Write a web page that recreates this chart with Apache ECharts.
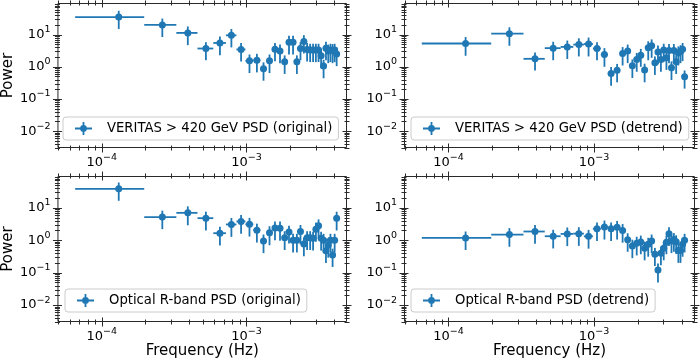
<!doctype html>
<html>
<head>
<meta charset="utf-8">
<title>PSD panels</title>
<script src="https://cdn.jsdelivr.net/npm/echarts@6.0.0/dist/echarts.min.js"></script>
<style>
  html, body { margin: 0; padding: 0; background: #fff; }
  #main { width: 700px; height: 362px; }
</style>
</head>
<body>
<div id="main"></div>
<script>
  // frequency bins (Hz), half bin width used for the x error bars
  var freq = [0.0001312, 0.0002624, 0.0003936, 0.0005248, 0.000656, 0.0007872, 0.0009184, 0.0010496,
              0.0011808, 0.001312, 0.0014432, 0.0015744, 0.0017056, 0.0018368, 0.001968, 0.0020992,
              0.0022304, 0.0023616, 0.0024928, 0.002624, 0.0027552, 0.0028864, 0.0030176, 0.0031488,
              0.00328, 0.0034112, 0.0035424, 0.0036736, 0.0038048, 0.003936, 0.0040672, 0.0041984];
  var binHalf = 0.0000656;

  var veritasOrig = [35, 20, 11.3, 3.7, 5.5, 9.5, 3.45, 1.53, 1.6, 0.87, 1.53, 3.5, 3.1, 1.43, 5.8, 5.8,
                     1.43, 3.7, 6.1, 3.45, 3.3, 3.3, 3.3, 3.3, 2.2, 1.05, 3.8, 3.1, 3.3, 3.2, 3.3, 2.5];
  var veritasOrigErr = [20, 11.6, 6.6, 2.1, 3.2, 5.5, 2.0, 0.89, 0.93, 0.5, 0.89, 2.0, 1.8, 0.83, 3.4, 3.4,
                        0.83, 2.1, 3.5, 2.0, 1.9, 1.9, 1.9, 1.9, 1.3, 0.61, 2.2, 1.8, 1.9, 1.9, 1.9, 1.45];

  var veritasDetr = [5.3, 10.7, 1.77, 3.8, 4.15, 4.9, 5.1, 3.7, 2.4, 0.62, 0.78, 2.6, 3.1, 1.07, 1.7, 2.3,
                     0.79, 3.9, 4.5, 1.33, 2.9, 1.7, 3.3, 1.9, 3.2, 0.93, 3.2, 1.43, 2.7, 3.0, 3.5, 0.49];
  var veritasDetrErr = [3.1, 6.2, 1.0, 2.2, 2.4, 2.8, 3.0, 2.1, 1.4, 0.36, 0.45, 1.5, 1.8, 0.62, 1.0, 1.3,
                        0.46, 2.3, 2.6, 0.77, 1.7, 1.0, 1.9, 1.1, 1.9, 0.54, 1.9, 0.83, 1.6, 1.7, 2.0, 0.28];

  var opticalOrig = [38.5, 5.2, 7.0, 4.8, 1.65, 3.07, 3.8, 3.1, 2.05, 0.95, 1.7, 2.4, 2.36, 1.2, 1.8, 1.0,
                     1.0, 1.85, 0.77, 1.2, 1.2, 1.15, 2.2, 2.8, 1.15, 1.0, 0.47, 0.7, 1.0, 0.35, 1.0, 4.8];
  var opticalOrigErr = [22, 3.0, 4.1, 2.8, 0.96, 1.8, 2.2, 1.8, 1.2, 0.55, 1.0, 1.4, 1.4, 0.7, 1.0, 0.58,
                        0.58, 1.1, 0.45, 0.7, 0.7, 0.67, 1.3, 1.6, 0.67, 0.58, 0.27, 0.41, 0.58, 0.2, 0.58, 2.8];

  var opticalDetr = [1.18, 1.5, 1.86, 1.33, 1.57, 1.6, 1.32, 2.25, 2.55, 2.25, 2.5, 2.0, 1.04, 0.66, 0.81, 0.88,
                     0.57, 0.75, 0.95, 0.37, 0.12, 0.4, 0.57, 0.87, 1.6, 0.95, 1.05, 0.9, 0.48, 0.48, 0.75, 1.0];
  var opticalDetrErr = [0.68, 0.87, 1.08, 0.77, 0.91, 0.93, 0.77, 1.3, 1.5, 1.3, 1.45, 1.16, 0.6, 0.38, 0.47, 0.51,
                        0.33, 0.44, 0.55, 0.21, 0.07, 0.23, 0.33, 0.5, 0.93, 0.55, 0.61, 0.52, 0.28, 0.28, 0.44, 0.58];

  var xMajorTicks = [1e-4, 1e-3];
  var yMajorTicks = [0.01, 0.1, 1, 10];

  var XMIN = 4.95e-5, XMAX = 4.95e-3, YMIN = 0.003, YMAX = 96;
  var BLUE = '#1f77b4';
  var FONT = 'DejaVu Sans';
  var ERR_ICON = 'path://M0,5.6 L17,5.6 L17,7.4 L0,7.4 Z M7.6,0 L9.4,0 L9.4,13 L7.6,13 Z ' +
                 'M5.1,6.5 A3.4,3.4 0 1 1 11.9,6.5 A3.4,3.4 0 1 1 5.1,6.5 Z';

  var panels = [
    {name: 'VERITAS > 420 GeV PSD (original)', y: veritasOrig, err: veritasOrigErr,
     left: 57, top: 3, width: 290, height: 145, legendLeft: 63, legendTop: 117, yName: 'Power', xName: ''},
    {name: 'VERITAS > 420 GeV PSD (detrend)', y: veritasDetr, err: veritasDetrErr,
     left: 404, top: 3, width: 291, height: 145, legendLeft: 411, legendTop: 117, yName: '', xName: ''},
    {name: 'Optical R-band PSD (original)', y: opticalOrig, err: opticalOrigErr,
     left: 57, top: 176, width: 290, height: 146, legendLeft: 65, legendTop: 289, yName: 'Power', xName: 'Frequency (Hz)'},
    {name: 'Optical R-band PSD (detrend)', y: opticalDetr, err: opticalDetrErr,
     left: 404, top: 176, width: 291, height: 146, legendLeft: 411, legendTop: 289, yName: '', xName: 'Frequency (Hz)'}
  ];

  function powLabel(v) {
    var e = Math.round(Math.log(v) / Math.LN10);
    return '{b|10}{s|' + (e < 0 ? '\u2212' + (-e) : e) + '}';
  }
  var labelRich = {
    b: {fontFamily: FONT, fontSize: 13, lineHeight: 20, color: '#000'},
    s: {fontFamily: FONT, fontSize: 9.5, lineHeight: 9, verticalAlign: 'top', color: '#000'}
  };

  // tick marks on all four sides, matplotlib style (in and out)
  function tickData() {
    var d = [], e, m, v;
    for (e = -5; e <= -3; e++) {
      for (m = 1; m < 10; m++) {
        v = m * Math.pow(10, e);
        if (v >= XMIN && v <= XMAX) d.push([v, 1, xMajorTicks.indexOf(v) >= 0 || m === 1 ? 0 : 1]);
      }
    }
    for (e = -3; e <= 1; e++) {
      for (m = 1; m < 10; m++) {
        v = m * Math.pow(10, e);
        if (v >= YMIN && v <= YMAX) d.push([1e-3, v, m === 1 ? 2 : 3]);
      }
    }
    d.push([1e-3, 1, 4]);
    return d;
  }

  function renderTick(params, api) {
    var cs = params.coordSys;
    var kind = api.value(2);
    var st = {stroke: '#2a2a2a', lineWidth: 1};
    if (kind === 4) {
      return {type: 'rect', shape: {x: cs.x + 0.5, y: cs.y + 0.5, width: cs.width - 1, height: cs.height - 1},
              style: {stroke: '#2a2a2a', fill: null, lineWidth: 1}};
    }
    var len = (kind === 0 || kind === 2) ? 4.5 : 2.5;
    var x0 = cs.x, x1 = cs.x + cs.width, y0 = cs.y, y1 = cs.y + cs.height;
    if (kind < 2) {
      var px = Math.round(api.coord([api.value(0), 1])[0]) + 0.5;
      return {type: 'group', children: [
        {type: 'line', shape: {x1: px, y1: y0 - len, x2: px, y2: y0 + len}, style: st},
        {type: 'line', shape: {x1: px, y1: y1 - len, x2: px, y2: y1 + len}, style: st}
      ]};
    }
    var py = Math.round(api.coord([1e-3, api.value(1)])[1]) + 0.5;
    return {type: 'group', children: [
      {type: 'line', shape: {x1: x0 - len, y1: py, x2: x0 + len, y2: py}, style: st},
      {type: 'line', shape: {x1: x1 - len, y1: py, x2: x1 + len, y2: py}, style: st}
    ]};
  }

  function renderErr(params, api) {
    var f = api.value(0), p = api.value(1), xe = api.value(2), pe = api.value(3);
    var cs = params.coordSys;
    var c = api.coord([f, p]);
    var l = api.coord([f - xe, p]);
    var r = api.coord([f + xe, p]);
    var t = api.coord([f, p + pe]);
    var lo = p - pe > 0 ? api.coord([f, p - pe])[1] : cs.y + cs.height;
    var st = {stroke: BLUE, lineWidth: 1.8};
    return {type: 'group', children: [
      {type: 'line', shape: {x1: l[0], y1: c[1], x2: r[0], y2: c[1]}, style: st},
      {type: 'line', shape: {x1: c[0], y1: t[1], x2: c[0], y2: lo}, style: st},
      {type: 'circle', shape: {cx: c[0], cy: c[1], r: 3.5}, style: {fill: BLUE}}
    ]};
  }

  var chart = echarts.init(document.getElementById('main'));
  var option = {
    animation: false,
    backgroundColor: '#fff',
    grid: [],
    xAxis: [],
    yAxis: [],
    legend: [],
    series: []
  };

  panels.forEach(function (p, i) {
    option.grid.push({left: p.left, top: p.top, width: p.width, height: p.height, containLabel: false});
    option.xAxis.push({
      type: 'log', logBase: 10, gridIndex: i, min: XMIN, max: XMAX,
      axisLine: {show: false}, axisTick: {show: false}, splitLine: {show: false},
      axisLabel: {formatter: powLabel, rich: labelRich, margin: 4.5, showMinLabel: false, showMaxLabel: false},
      name: p.xName, nameLocation: 'middle', nameGap: 21,
      nameTextStyle: {fontFamily: FONT, fontSize: 15, color: '#000'}
    });
    option.yAxis.push({
      type: 'log', logBase: 10, gridIndex: i, min: YMIN, max: YMAX,
      axisLine: {show: false}, axisTick: {show: false}, splitLine: {show: false},
      axisLabel: {formatter: powLabel, rich: labelRich, margin: 7, showMinLabel: false, showMaxLabel: false},
      name: p.yName, nameLocation: 'middle', nameGap: 41, nameRotate: 90,
      nameTextStyle: {fontFamily: FONT, fontSize: 15, color: '#000'}
    });
    option.legend.push({
      data: [{name: p.name, icon: ERR_ICON}],
      left: p.legendLeft, top: p.legendTop,
      itemWidth: 17, itemHeight: 13,
      padding: [5, 6, 5, 12],
      backgroundColor: 'rgba(255,255,255,0.8)',
      borderColor: '#cccccc', borderWidth: 1, borderRadius: 3,
      selectedMode: false,
      textStyle: {fontFamily: FONT, fontSize: 13.2, color: '#000', padding: [0, 0, 0, 10]}
    });
    option.series.push({
      type: 'custom', name: p.name, xAxisIndex: i, yAxisIndex: i,
      itemStyle: {color: BLUE},
      encode: {x: 0, y: 1},
      renderItem: renderErr,
      clip: true, silent: true, z: 3,
      data: freq.map(function (f, k) { return [f, p.y[k], binHalf, p.err[k]]; })
    });
    option.series.push({
      type: 'custom', name: 'ticks' + i, xAxisIndex: i, yAxisIndex: i,
      encode: {x: 0, y: 1},
      renderItem: renderTick,
      clip: false, silent: true, z: 2,
      data: tickData()
    });
  });

  chart.setOption(option);
</script>
</body>
</html>
